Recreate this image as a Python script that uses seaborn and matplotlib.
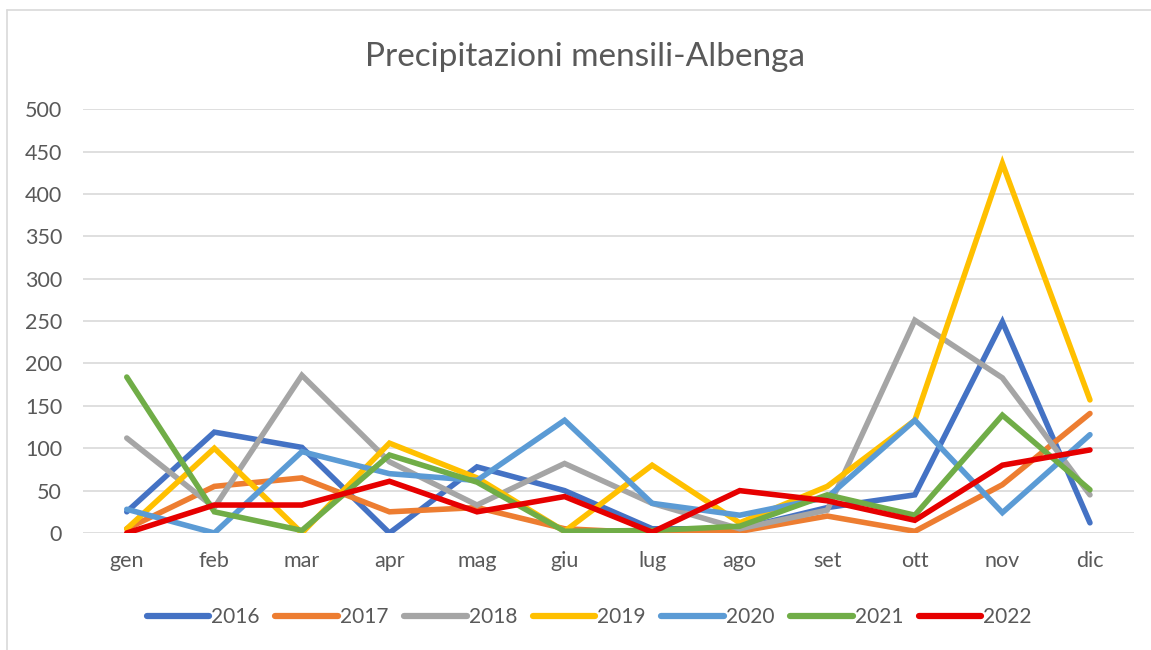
import pandas as pd
import matplotlib.pyplot as plt
import seaborn as sns
from matplotlib.lines import Line2D


# Monthly rainfall (mm)
MONTHS = ["gen", "feb", "mar", "apr", "mag", "giu",
          "lug", "ago", "set", "ott", "nov", "dic"]

rain_2016 = [25, 119, 101, 0, 78, 50, 5, 5, 30, 45, 249, 12]
rain_2017 = [5, 55, 65, 25, 30, 5, 0, 2, 20, 2, 57, 141]
rain_2018 = [112, 30, 186, 84, 33, 82, 35, 5, 27, 251, 183, 45]
rain_2019 = [5, 100, 0, 106, 65, 2, 80, 12, 55, 133, 436, 157]
rain_2020 = [28, 0, 96, 70, 62, 133, 35, 21, 42, 133, 24, 116]
rain_2021 = [184, 25, 3, 92, 60, 2, 3, 8, 45, 21, 139, 51]
rain_2022 = [0, 33, 33, 61, 25, 43, 1, 50, 38, 15, 80, 98]

YEARS = ["2016", "2017", "2018", "2019", "2020", "2021", "2022"]
COLORS = ["#4472C4", "#ED7D31", "#A5A5A5", "#FFC000",
          "#5B9BD5", "#70AD47", "#E60000"]

series = [rain_2016, rain_2017, rain_2018, rain_2019,
          rain_2020, rain_2021, rain_2022]

df = pd.DataFrame(
    [(m, y, v) for y, vals in zip(YEARS, series) for m, v in zip(MONTHS, vals)],
    columns=["mese", "anno", "mm"])


# Plot
sns.set_theme(style="white")
plt.rcParams["font.family"] = ["Lato", "DejaVu Sans"]
TXT = "#595959"

fig = plt.figure(figsize=(11.51, 6.5), dpi=100)
ax = fig.add_axes([0.0721, 0.18, 0.9129, 0.652])

sns.lineplot(data=df, x="mese", y="mm", hue="anno", hue_order=YEARS,
             palette=COLORS, linewidth=4.0, sort=False, legend=False,
             solid_capstyle="round", solid_joinstyle="miter", ax=ax)

ax.set_xlim(-0.5, len(MONTHS) - 0.5)
ax.set_ylim(0, 500)
ax.set_yticks(range(0, 501, 50))
ax.set_xlabel("")
ax.set_ylabel("")
ax.yaxis.grid(True, color="#D9D9D9", linewidth=1.2)
ax.set_axisbelow(True)
for s in ax.spines.values():
    s.set_visible(False)
ax.tick_params(axis="y", length=0, pad=15, labelsize=15.5, labelcolor=TXT)
ax.tick_params(axis="x", length=0, pad=13, labelsize=15.5, labelcolor=TXT)

fig.text(0.508, 0.913, "Precipitazioni mensili-Albenga", ha="center",
         va="center", fontsize=24, color=TXT)

handles = [Line2D([], [], color=c, linewidth=4.5, solid_capstyle="round")
           for c in COLORS]
fig.legend(handles, YEARS, loc="center", bbox_to_anchor=(0.512, 0.051),
           ncol=7, frameon=False, fontsize=15, handlelength=3.0,
           handletextpad=0.1, columnspacing=0.75, labelcolor=TXT)

# chart border (top and left edges visible in the screenshot)
fig.add_artist(Line2D([7 / 1151, 1], [1 - 10 / 650, 1 - 10 / 650],
                      transform=fig.transFigure, color="#D9D9D9", lw=1.2))
fig.add_artist(Line2D([7 / 1151, 7 / 1151], [0, 1 - 10 / 650],
                      transform=fig.transFigure, color="#D9D9D9", lw=1.2))

fig.savefig("out.png", dpi=100)
